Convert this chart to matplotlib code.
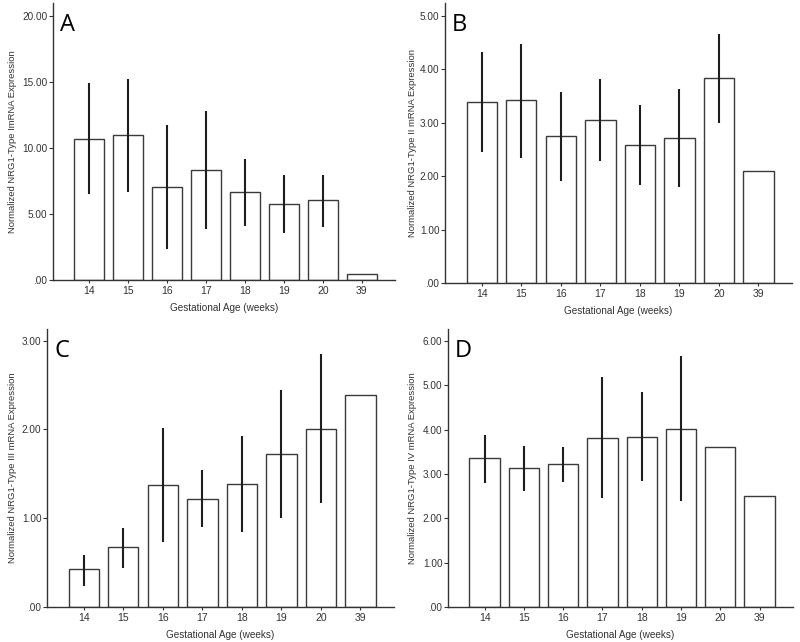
import numpy as np
import matplotlib
matplotlib.use("Agg")
from matplotlib import pyplot as plt
from matplotlib.ticker import FuncFormatter

plt.rcParams['font.family'] = ['Liberation Sans', 'DejaVu Sans']

weeks = ["14", "15", "16", "17", "18", "19", "20", "39"]
nan = np.nan

# panel A - type I
a_mean = [10.72, 10.97, 7.08, 8.34, 6.65, 5.76, 6.04, 0.48]
a_lo = [6.50, 6.65, 2.33, 3.84, 4.10, 3.54, 4.02, nan]
a_hi = [14.94, 15.22, 11.78, 12.79, 9.18, 7.99, 7.99, nan]

# panel B - type II
b_mean = [3.38, 3.42, 2.76, 3.05, 2.59, 2.72, 3.83, 2.09]
b_lo = [2.45, 2.34, 1.91, 2.29, 1.83, 1.79, 2.99, nan]
b_hi = [4.32, 4.48, 3.58, 3.81, 3.33, 3.63, 4.66, nan]

# panel C - type III
c_mean = [0.43, 0.67, 1.37, 1.22, 1.38, 1.72, 2.00, 2.39]
c_lo = [0.24, 0.44, 0.73, 0.90, 0.85, 1.00, 1.17, nan]
c_hi = [0.59, 0.89, 2.01, 1.54, 1.92, 2.44, 2.85, nan]

# panel D - type IV
d_mean = [3.35, 3.14, 3.22, 3.81, 3.84, 4.02, 3.61, 2.51]
d_lo = [2.79, 2.62, 2.83, 2.45, 2.84, 2.39, nan, nan]
d_hi = [3.88, 3.62, 3.60, 5.18, 4.84, 5.67, nan, nan]

W, H = 800, 642
fig = plt.figure(figsize=(W / 100, H / 100), dpi=100)


def px_axes(l, t, r, b):
    return fig.add_axes([l / W, 1 - b / H, (r - l) / W, (b - t) / H])


def fmt(v, pos):
    s = "%.2f" % v
    return s[1:] if s.startswith("0.") else s


def panel(box, label_x, letter, mean, lo, hi, ymax, ystep, ylabel):
    ax = px_axes(*box)
    wpx = box[2] - box[0]
    hpx = box[3] - box[1]
    x = np.arange(len(weeks))
    ax.bar(x, mean, width=0.77, color="white", edgecolor="#3a3a3a",
           linewidth=1.0, zorder=2)
    lo = np.array(lo)
    hi = np.array(hi)
    ok = ~np.isnan(lo)
    ax.vlines(x[ok], lo[ok], hi[ok], color="#1e1e1e", linewidth=1.5, zorder=3)

    ax.set_xlim(-0.93, 7.85)
    ax.set_ylim(0, ymax)
    ax.set_xticks(x)
    ax.set_xticklabels(weeks)
    ax.set_yticks(np.arange(0, ymax, ystep))
    ax.yaxis.set_major_formatter(FuncFormatter(fmt))
    for s in ["top", "right"]:
        ax.spines[s].set_visible(False)
    for s in ["left", "bottom"]:
        ax.spines[s].set_color("#333333")
        ax.spines[s].set_linewidth(1.0)
    ax.tick_params(axis="both", colors="#333333", width=0.8)
    ax.tick_params(axis="y", length=3, pad=1, labelsize=7.2)
    ax.tick_params(axis="x", length=2.5, pad=2, labelsize=7.5)
    ax.set_xlabel("Gestational Age (weeks)", fontsize=7.2, color="#333333",
                  labelpad=5)
    ax.set_ylabel(ylabel, fontsize=6.8, color="#333333")
    # label position given in pixels from the figure's left edge
    ax.yaxis.set_label_coords((label_x - box[0]) / wpx, 0.5)
    ax.text(7 / wpx, 1 - 28 / hpx, letter, transform=ax.transAxes,
            fontsize=17, family="Open Sans", va="baseline", ha="left")
    return ax


panel((53, 3, 395, 280), 17, "A", a_mean, a_lo, a_hi, 21, 5,
      "Normalized NRG1-Type ImRNA Expression")
panel((445, 3, 792, 283), 417, "B", b_mean, b_lo, b_hi, 5.24, 1,
      "Normalized NRG1-Type II mRNA Expression")
panel((47, 329, 394, 607), 17, "C", c_mean, c_lo, c_hi, 3.13, 1,
      "Normalized NRG1-Type III mRNA Expression")
panel((448, 329, 793, 607), 417, "D", d_mean, d_lo, d_hi, 6.27, 1,
      "Normalized NRG1-Type IV mRNA Expression")

fig.savefig("out.png", dpi=100)
